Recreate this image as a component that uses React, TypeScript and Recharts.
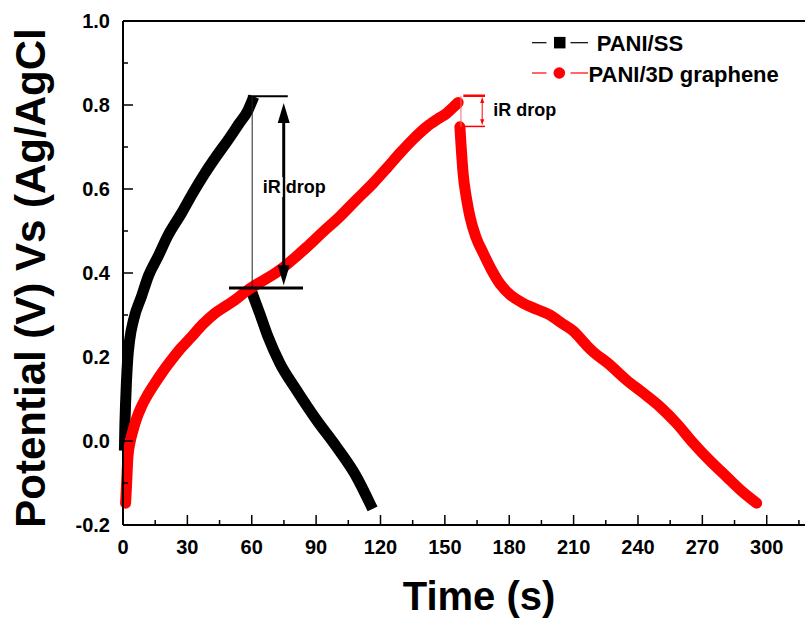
import React from "react";
import { Label, Legend, Line, LineChart, ReferenceLine, XAxis, YAxis } from "recharts";

const FONT = '"Liberation Sans", Arial, Helvetica, sans-serif';

// PANI/SS charge-discharge (null = gap at the iR drop)
const ssTime = [
  0.7, 0.9, 1.2, 1.6, 2.2, 3.1, 5.0, 8.6, 12.0, 16.3, 21.0, 27.2, 32.5, 38.1, 43.5, 49.0, 54.0, 58.3, 60.0,
  60.1,
  60.2, 63.7, 67.6, 73.1, 80.9, 90.2, 99.5, 108.8, 115.2,
];
const ssPotential = [
  -0.01, 0.04, 0.09, 0.14, 0.195, 0.24, 0.29, 0.344, 0.395, 0.439, 0.49, 0.542, 0.59, 0.637, 0.678, 0.717, 0.755, 0.788, 0.808,
  null,
  0.352, 0.304, 0.248, 0.185, 0.121, 0.05, -0.014, -0.085, -0.15,
];

// PANI/3D graphene charge-discharge
const grTime = [
  1.2, 1.6, 2.3, 3.2, 4.7, 6.5, 8.6, 11.5, 14.8, 18.5, 22.6, 27.0, 31.9, 37.0, 42.8, 47.5, 52.0, 57.0, 62.0,
  68.0, 74.6, 80.0, 85.5, 93.0, 101.0, 108.5, 116.6, 123.0, 129.0, 135.5, 141.5, 146.5, 150.8, 154.0, 156.2,
  156.6,
  157.0, 157.6, 158.5, 160.0, 161.7, 164.5, 167.9, 171.5, 175.6, 180.5, 186.5, 193.0, 199.0, 204.0, 209.8,
  216.0, 219.2, 226.0, 234.7, 242.0, 250.2, 258.0, 265.8, 273.5, 281.3, 288.5, 295.3,
];
const grPotential = [
  -0.148, -0.11, -0.037, -0.005, 0.026, 0.056, 0.082, 0.11, 0.137, 0.165, 0.193, 0.221, 0.248, 0.277, 0.304, 0.32, 0.335, 0.355, 0.372,
  0.39, 0.413, 0.436, 0.461, 0.497, 0.534, 0.573, 0.614, 0.65, 0.685, 0.72, 0.748, 0.766, 0.78, 0.795, 0.806,
  null,
  0.748, 0.7, 0.637, 0.58, 0.534, 0.485, 0.447, 0.41, 0.375, 0.348, 0.328, 0.313, 0.3, 0.282, 0.262,
  0.228, 0.212, 0.185, 0.145, 0.116, 0.082, 0.042, -0.005, -0.047, -0.085, -0.12, -0.148,
];

const seriesNames = ["PANI/SS", "PANI/3D graphene"];
const xTicks = [0, 15, 30, 45, 60, 75, 90, 105, 120, 135, 150, 165, 180, 195, 210, 225, 240, 255, 270, 285, 300, 315];
const yTicks = [-0.2, -0.1, 0, 0.1, 0.2, 0.3, 0.4, 0.5, 0.6, 0.7, 0.8, 0.9, 1.0];

const ssData = ssTime.map((t, i) => ({ t, v: ssPotential[i] }));
const grData = grTime.map((t, i) => ({ t, v: grPotential[i] }));

function XTick(props: any) {
  const { x, y, payload } = props;
  const major = payload.value % 30 === 0;
  return (
    <g>
      <line x1={x} x2={x} y1={y} y2={y - (major ? 10 : 5)} stroke="#000" strokeWidth={1.5} />
      {major && (
        <text x={x} y={y + 29} textAnchor="middle" fontSize={20} fontWeight="bold" fontFamily={FONT} fill="#000">
          {payload.value}
        </text>
      )}
    </g>
  );
}

function YTick(props: any) {
  const { x, y, payload } = props;
  const major = Math.round(payload.value * 10) % 2 === 0;
  return (
    <g>
      <line x1={x} x2={x + (major ? 10 : 5)} y1={y} y2={y} stroke="#000" strokeWidth={1.5} />
      {major && (
        <text x={x - 13} y={y + 7} textAnchor="end" fontSize={20} fontWeight="bold" fontFamily={FONT} fill="#000">
          {payload.value.toFixed(1)}
        </text>
      )}
    </g>
  );
}

function arrowShape(
  color: string,
  w: number,
  headL: number,
  headW: number,
  label: { text: string; dx: number; dy: number; bg: boolean }
) {
  return (p: any) => {
    const x = p.x1;
    const top = Math.min(p.y1, p.y2);
    const bot = Math.max(p.y1, p.y2);
    const mid = (top + bot) / 2;
    const tx = x + label.dx;
    const ty = mid + label.dy;
    return (
      <g>
        <line x1={x} x2={x} y1={top + headL - 1} y2={bot - headL + 1} stroke={color} strokeWidth={w} />
        <polygon points={`${x},${top} ${x - headW / 2},${top + headL} ${x + headW / 2},${top + headL}`} fill={color} />
        <polygon points={`${x},${bot} ${x - headW / 2},${bot - headL} ${x + headW / 2},${bot - headL}`} fill={color} />
        {label.bg && <rect x={tx + 12} y={ty - 16} width={8} height={20} fill="#fff" />}
        <text x={tx} y={ty} fontSize={18} fontWeight="bold" fontFamily={FONT} fill="#000">
          {label.text}
        </text>
      </g>
    );
  };
}

function renderLegend(props: any) {
  const items = [...(props.payload || [])].sort(
    (a: any, b: any) => seriesNames.indexOf(a.value) - seriesNames.indexOf(b.value)
  );
  return (
    <svg width={270} height={70}>
      {items.map((entry: any, i: number) => {
        const cy = i === 0 ? 17.7 : 48;
        const color = entry.color;
        return (
          <g key={entry.value}>
            <line x1={2} x2={16.5} y1={cy} y2={cy} stroke={color} strokeWidth={1.2} />
            <line x1={40.5} x2={58} y1={cy} y2={cy} stroke={color} strokeWidth={1.2} />
            {i === 0 ? (
              <rect x={24} y={cy - 5.8} width={11.5} height={11.5} fill={color} />
            ) : (
              <circle cx={29.3} cy={cy} r={5.8} fill={color} />
            )}
            <text
              x={i === 0 ? 66.7 : 58.5}
              y={cy + 8.5}
              fontSize={22}
              fontWeight="bold"
              fontFamily={FONT}
              fill="#000"
            >
              {entry.value}
            </text>
          </g>
        );
      })}
    </svg>
  );
}

export default function App() {
  return (
    <div
      style={{
        position: "absolute",
        left: 0,
        top: 0,
        width: 805,
        height: 626,
        overflow: "hidden",
        background: "#fff",
        fontFamily: FONT,
      }}
    >
      {/* the plot continues past the right edge of the picture */}
      <LineChart width={812} height={626} margin={{ top: 21, right: 0, bottom: 0, left: 0 }}>
        <XAxis
          type="number"
          dataKey="t"
          domain={[0, 321.1]}
          ticks={xTicks}
          interval={0}
          tickSize={0}
          tickMargin={0}
          tick={<XTick />}
          height={101}
          axisLine={{ stroke: "#000", strokeWidth: 2 }}
        >
          <Label
            content={(p: any) => (
              <text
                x={p.viewBox.x + 356}
                y={p.viewBox.y + 85}
                textAnchor="middle"
                fontSize={40}
                fontWeight="bold"
                fontFamily={FONT}
                fill="#000"
              >
                Time (s)
              </text>
            )}
          />
        </XAxis>
        <YAxis
          type="number"
          domain={[-0.2, 1]}
          ticks={yTicks}
          interval={0}
          tickSize={0}
          tickMargin={0}
          tick={<YTick />}
          width={123}
          axisLine={{ stroke: "#000", strokeWidth: 2 }}
        >
          <Label
            content={(p: any) => {
              const cx = p.viewBox.x + 45;
              const cy = p.viewBox.y + 257;
              return (
                <text
                  x={cx}
                  y={cy}
                  transform={`rotate(-90, ${cx}, ${cy})`}
                  textAnchor="middle"
                  fontSize={42}
                  fontWeight="bold"
                  fontFamily={FONT}
                  fill="#000"
                >
                  Potential (V) Vs (Ag/AgCl
                </text>
              );
            }}
          />
        </YAxis>
        <ReferenceLine y={1} stroke="#000" strokeWidth={2} />
        <Line
          data={ssData}
          dataKey="v"
          name={seriesNames[0]}
          type="monotone"
          stroke="#000"
          strokeWidth={11}
          strokeLinecap="square"
          strokeLinejoin="round"
          dot={false}
          activeDot={false}
          connectNulls={false}
          isAnimationActive={false}
        />
        <Line
          data={grData}
          dataKey="v"
          name={seriesNames[1]}
          type="monotone"
          stroke="#ff0000"
          strokeWidth={11}
          strokeLinecap="round"
          strokeLinejoin="round"
          dot={false}
          activeDot={false}
          connectNulls={false}
          isAnimationActive={false}
        />
        {/* iR drop annotation, PANI/SS */}
        <ReferenceLine segment={[{ x: 60.2, y: 0.821 }, { x: 60.2, y: 0.364 }]} stroke="#222" strokeWidth={1} />
        <ReferenceLine segment={[{ x: 58.2, y: 0.821 }, { x: 76.8, y: 0.821 }]} stroke="#000" strokeWidth={2} />
        <ReferenceLine segment={[{ x: 49.4, y: 0.364 }, { x: 83.9, y: 0.364 }]} stroke="#000" strokeWidth={3} />
        <ReferenceLine
          segment={[{ x: 74.9, y: 0.805 }, { x: 74.9, y: 0.371 }]}
          shape={arrowShape("#000", 3, 20, 12, { text: "iR drop", dx: -21, dy: -1, bg: true })}
        />
        {/* iR drop annotation, PANI/3D graphene */}
        <ReferenceLine segment={[{ x: 157.5, y: 0.822 }, { x: 157.5, y: 0.748 }]} stroke="#ff6666" strokeWidth={1} />
        <ReferenceLine segment={[{ x: 158.6, y: 0.822 }, { x: 168.7, y: 0.822 }]} stroke="#ff0000" strokeWidth={2.5} />
        <ReferenceLine segment={[{ x: 158.6, y: 0.749 }, { x: 168.7, y: 0.749 }]} stroke="#ff0000" strokeWidth={1.5} />
        <ReferenceLine
          segment={[{ x: 167.4, y: 0.819 }, { x: 167.4, y: 0.752 }]}
          shape={arrowShape("#ff0000", 1, 6, 4, { text: "iR drop", dx: 11, dy: 5, bg: false })}
        />
        <Legend
          layout="vertical"
          align="center"
          verticalAlign="middle"
          content={renderLegend}
          wrapperStyle={{ left: 530, top: 25, width: 270, height: 70 }}
        />
      </LineChart>
    </div>
  );
}
